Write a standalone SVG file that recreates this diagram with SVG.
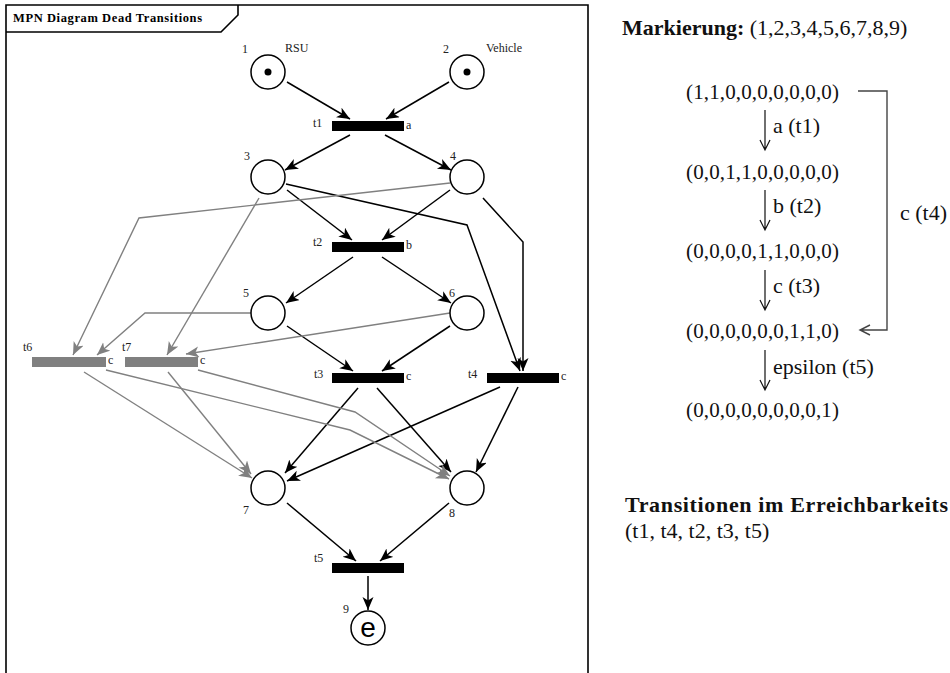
<svg xmlns="http://www.w3.org/2000/svg" width="950" height="673" viewBox="0 0 950 673">
  <style>
    .frame { fill: none; stroke: #000; stroke-width: 1.6; }
    .place { fill: #fff; stroke: #000; stroke-width: 1.5; }
    .trans { fill: #000; }
    .trans-dead { fill: #808080; }
    .arc { fill: none; stroke: #000; stroke-width: 1.5; marker-end: url(#head); }
    .arc-dead { fill: none; stroke: #808080; stroke-width: 1.4; marker-end: url(#head-gray); }
    .lbl { font-family: "Liberation Serif", "DejaVu Serif", serif; font-size: 12px; fill: #222; }
    .title { font-family: "Liberation Serif", "DejaVu Serif", serif; font-size: 12.5px; font-weight: bold; fill: #000; }
    .txt { font-family: "Liberation Serif", "DejaVu Serif", serif; font-size: 22px; fill: #111; }
    .tuple { font-size: 21px; }
    .bold { font-weight: bold; }
    .step { fill: none; stroke: #111; stroke-width: 1.2; }
    .loop { fill: none; stroke: #444; stroke-width: 1.4; }
  </style>
  <defs>
    <marker id="head" markerUnits="userSpaceOnUse" markerWidth="15" markerHeight="13" refX="13" refY="5.5" orient="auto">
      <path d="M0,0 L13,5.5 L0,11 L3.5,5.5 Z" fill="#000"/>
    </marker>
    <marker id="head-gray" markerUnits="userSpaceOnUse" markerWidth="15" markerHeight="13" refX="13" refY="5.5" orient="auto">
      <path d="M0,0 L13,5.5 L0,11 L3.5,5.5 Z" fill="#808080"/>
    </marker>
  </defs>

  <!-- diagram frame with title tab -->
  <g id="frame">
    <path class="frame" d="M6,673 L6,5 L588,5 L588,673"/>
    <path class="frame" d="M6,32 L221,32 L238,15 L238,5"/>
    <text class="title" x="13" y="22" textLength="189">MPN Diagram Dead Transitions</text>
  </g>

  <!-- connectors -->
  <g id="connectors">
    <path class="arc" d="M287,82 L350,119"/>
    <path class="arc" d="M449,82 L386,119"/>
    <path class="arc" d="M350,135 L285,170"/>
    <path class="arc" d="M385,135 L451,170"/>
    <path class="arc" d="M287,190 L352,240"/>
    <path class="arc" d="M450,190 L382,240"/>
    <path class="arc" d="M286,184 L467,225 L520,371"/>
    <path class="arc" d="M483,198 L523,242 L523,371"/>
    <path class="arc" d="M353,257 L286,303"/>
    <path class="arc" d="M382,257 L451,303"/>
    <path class="arc" d="M287,326 L353,371"/>
    <path class="arc" d="M450,326 L382,371"/>
    <path class="arc" d="M358,388 L285,473"/>
    <path class="arc" d="M377,388 L451,472"/>
    <path class="arc" d="M500,387 L287,481"/>
    <path class="arc" d="M518,387 L476,472"/>
    <path class="arc" d="M287,503 L356,561"/>
    <path class="arc" d="M449,503 L380,561"/>
    <path class="arc" d="M368,576 L368,610"/>

    <path class="arc-dead" d="M450,183 L139,218 L73,355"/>
    <path class="arc-dead" d="M259,198 L167,355"/>
    <path class="arc-dead" d="M251,313 L145,313 L97,355"/>
    <path class="arc-dead" d="M450,313 L186,354"/>
    <path class="arc-dead" d="M84,372 L252,478"/>
    <path class="arc-dead" d="M106,370 L350,430 L449,479"/>
    <path class="arc-dead" d="M168,372 L251,474"/>
    <path class="arc-dead" d="M198,370 L355,412 L450,476"/>
  </g>

  <!-- places -->
  <g id="p1">
    <circle class="place" cx="268" cy="72" r="17"/>
    <circle cx="268" cy="72" r="3.5" fill="#000"/>
    <text class="lbl" x="242" y="53">1</text>
    <text class="lbl" x="285" y="52">RSU</text>
  </g>
  <g id="p2">
    <circle class="place" cx="467" cy="72" r="17"/>
    <circle cx="467" cy="72" r="3.5" fill="#000"/>
    <text class="lbl" x="443" y="53">2</text>
    <text class="lbl" x="486" y="52">Vehicle</text>
  </g>
  <g id="p3">
    <circle class="place" cx="268" cy="177" r="17"/>
    <text class="lbl" x="244" y="160">3</text>
  </g>
  <g id="p4">
    <circle class="place" cx="467" cy="177" r="17"/>
    <text class="lbl" x="450" y="160">4</text>
  </g>
  <g id="p5">
    <circle class="place" cx="268" cy="313" r="17"/>
    <text class="lbl" x="243" y="297">5</text>
  </g>
  <g id="p6">
    <circle class="place" cx="467" cy="313" r="17"/>
    <text class="lbl" x="449" y="297">6</text>
  </g>
  <g id="p7">
    <circle class="place" cx="268" cy="488" r="17"/>
    <text class="lbl" x="243" y="514">7</text>
  </g>
  <g id="p8">
    <circle class="place" cx="467" cy="488" r="17"/>
    <text class="lbl" x="449" y="517">8</text>
  </g>
  <g id="p9">
    <circle class="place" cx="368" cy="628" r="17"/>
    <text x="368" y="637" text-anchor="middle" font-family="Liberation Sans, Arial, sans-serif" font-size="28" fill="#000">e</text>
    <text class="lbl" x="343" y="613">9</text>
  </g>

  <!-- transitions -->
  <g id="t1">
    <rect class="trans" x="332" y="121" width="72" height="10"/>
    <text class="lbl" x="313" y="127">t1</text>
    <text class="lbl" x="406" y="129">a</text>
  </g>
  <g id="t2">
    <rect class="trans" x="332" y="242" width="72" height="10"/>
    <text class="lbl" x="313" y="246">t2</text>
    <text class="lbl" x="406" y="249">b</text>
  </g>
  <g id="t3">
    <rect class="trans" x="332" y="373" width="72" height="10"/>
    <text class="lbl" x="314" y="378">t3</text>
    <text class="lbl" x="406" y="380">c</text>
  </g>
  <g id="t4">
    <rect class="trans" x="487" y="373" width="72" height="10"/>
    <text class="lbl" x="468" y="378">t4</text>
    <text class="lbl" x="561" y="380">c</text>
  </g>
  <g id="t5">
    <rect class="trans" x="332" y="563" width="72" height="10"/>
    <text class="lbl" x="314" y="562">t5</text>
  </g>
  <g id="t6">
    <rect class="trans-dead" x="32" y="357" width="74" height="10"/>
    <text class="lbl" x="23" y="351">t6</text>
    <text class="lbl" x="108" y="364">c</text>
  </g>
  <g id="t7">
    <rect class="trans-dead" x="125" y="357" width="73" height="10"/>
    <text class="lbl" x="122" y="351">t7</text>
    <text class="lbl" x="200" y="364">c</text>
  </g>

  <!-- reachability graph -->
  <g id="marking-header">
    <text class="txt" x="622" y="35"><tspan class="bold">Markierung:</tspan> (1,2,3,4,5,6,7,8,9)</text>
  </g>
  <g id="m0"><text class="txt tuple" x="686" y="99" textLength="153">(1,1,0,0,0,0,0,0,0)</text></g>
  <g id="m1"><text class="txt tuple" x="686" y="179" textLength="153">(0,0,1,1,0,0,0,0,0)</text></g>
  <g id="m2"><text class="txt tuple" x="686" y="258" textLength="153">(0,0,0,0,1,1,0,0,0)</text></g>
  <g id="m3"><text class="txt tuple" x="686" y="338" textLength="153">(0,0,0,0,0,0,1,1,0)</text></g>
  <g id="m4"><text class="txt tuple" x="686" y="417" textLength="153">(0,0,0,0,0,0,0,0,1)</text></g>

  <g id="reach-steps">
    <path class="step" d="M765,110 L765,150 M760,140 L765,150 L770,140"/>
    <text class="txt" x="773" y="133">a (t1)</text>
    <path class="step" d="M765,190 L765,230 M760,220 L765,230 L770,220"/>
    <text class="txt" x="773" y="213">b (t2)</text>
    <path class="step" d="M765,270 L765,310 M760,300 L765,310 L770,300"/>
    <text class="txt" x="773" y="293">c (t3)</text>
    <path class="step" d="M765,350 L765,390 M760,380 L765,390 L770,380"/>
    <text class="txt" x="773" y="374">epsilon (t5)</text>
    <path class="loop" d="M858,91 L887,91 L887,330 L860,330 M870,325 L860,330 L870,335"/>
    <text class="txt" x="900" y="220">c (t4)</text>
  </g>

  <g id="transitions-list">
    <text class="txt bold" x="625" y="512" textLength="323">Transitionen im Erreichbarkeits</text>
    <text class="txt" x="625" y="538">(t1, t4, t2, t3, t5)</text>
  </g>
</svg>
